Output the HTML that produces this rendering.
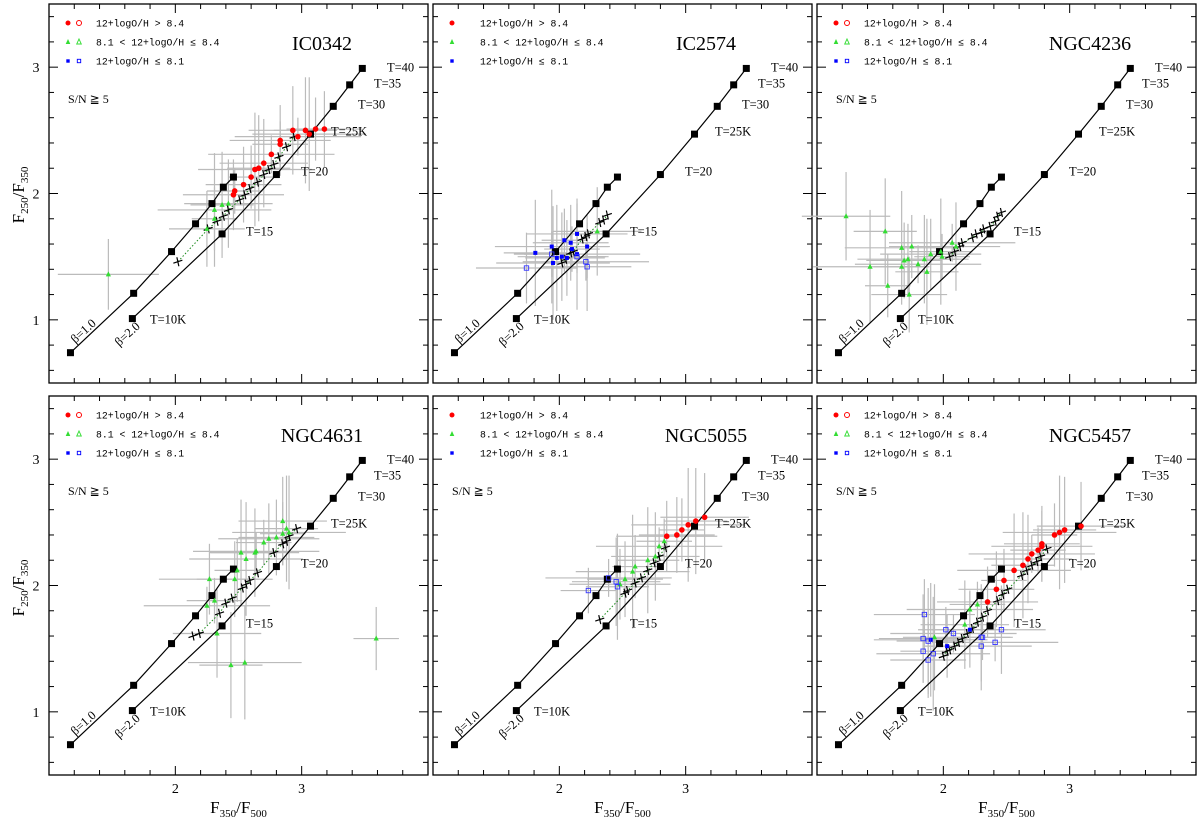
<!DOCTYPE html>
<html><head><meta charset="utf-8">
<style>
html,body{margin:0;padding:0;background:#fff;}
svg{display:block;}
text{font-family:"Liberation Serif",serif;fill:#000;}
.leg{font-family:"Liberation Mono",monospace;font-size:9.8px;}
</style></head>
<body>
<svg id="fig" width="1200" height="824" viewBox="0 0 1200 824" xmlns="http://www.w3.org/2000/svg"></svg>
<script>
// ---- data ----
const galaxyNames = ["IC0342","IC2574","NGC4236","NGC4631","NGC5055","NGC5457"];
const modelTemps = [10,15,20,25,30,35,40];
const beta1X = [1.17,1.67,1.97,2.16,2.29,2.38,2.46];
const beta1Y = [0.74,1.21,1.54,1.76,1.92,2.05,2.13];
const beta2X = [1.66,2.37,2.80,3.07,3.25,3.38,3.48];
const beta2Y = [1.01,1.68,2.15,2.47,2.69,2.86,2.99];
const xTickLabels = ["2","3"];
const yTickLabels = ["1","2","3"];
const redPts = [
 [[2.93,2.50],[3.03,2.50],[3.06,2.47],[3.11,2.51],[3.18,2.51],[2.83,2.42],[2.83,2.39],[2.76,2.31],[2.70,2.24],[2.66,2.20],[2.63,2.19],[2.60,2.13],[2.54,2.07],[2.46,1.99],[2.47,2.02],[2.97,2.45]],
 [],[],[],
 [[3.15,2.54],[3.08,2.51],[3.02,2.48],[2.97,2.44],[2.93,2.40],[2.85,2.39]],
 [[3.09,2.47],[2.96,2.44],[2.92,2.42],[2.88,2.40],[2.78,2.33],[2.78,2.31],[2.75,2.28],[2.70,2.25],[2.67,2.21],[2.63,2.16],[2.56,2.12],[2.48,2.04],[2.42,1.97],[2.35,1.87]]
];
const greenPts = [
 [[2.42,1.92],[2.37,1.91],[2.31,1.87],[2.31,1.80],[2.25,1.72],[1.47,1.36]],
 [[2.30,1.70]],
 [[1.23,1.82],[1.54,1.70],[1.67,1.57],[1.75,1.58],[1.69,1.47],[1.72,1.48],[1.67,1.42],[1.80,1.44],[1.85,1.48],[1.87,1.38],[1.42,1.42],[1.56,1.27],[1.73,1.20],[1.90,1.52],[1.99,1.50],[2.07,1.61],[2.10,1.58],[1.98,1.54]],
 [[2.85,2.51],[2.88,2.45],[2.90,2.42],[2.85,2.41],[2.80,2.38],[2.74,2.37],[2.70,2.34],[2.64,2.27],[2.63,2.26],[2.52,2.26],[2.56,2.21],[2.49,2.12],[2.47,2.05],[2.27,2.05],[2.31,1.88],[2.25,1.84],[2.33,1.62],[2.44,1.37],[2.55,1.39],[3.59,1.58]],
 [[2.83,2.35],[2.79,2.31],[2.76,2.23],[2.70,2.20],[2.58,2.11],[2.60,2.15],[2.52,2.05],[2.48,2.01]],
 [[2.27,1.85],[2.21,1.81],[2.17,1.69],[1.93,1.59]]
];
const blueFilledPts = [
 [],
 [[1.81,1.53],[1.94,1.58],[2.04,1.63],[2.09,1.61],[2.14,1.68],[2.10,1.56],[2.14,1.52],[2.02,1.50],[1.98,1.49],[1.95,1.45],[2.22,1.58],[2.06,1.49]],
 [],[],[],
 [[1.90,1.57],[2.03,1.52],[2.21,1.65]]
];
const blueOpenPts = [
 [],
 [[1.74,1.41],[1.94,1.52],[2.21,1.46],[2.22,1.42],[2.14,1.50]],
 [],[],
 [[2.23,1.96],[2.39,2.06],[2.45,2.03],[2.46,1.99]],
 [[1.85,1.77],[2.02,1.65],[2.08,1.62],[1.84,1.58],[1.88,1.56],[1.92,1.46],[1.84,1.48],[1.88,1.41],[2.30,1.52],[2.31,1.59],[2.41,1.55],[2.46,1.65],[2.30,1.59]]
];
const fitPts = [
 [[2.02,1.46],[2.26,1.72],[2.33,1.78],[2.38,1.82],[2.42,1.87],[2.51,1.95],[2.55,1.99],[2.59,2.04],[2.65,2.09],[2.70,2.15],[2.74,2.19],[2.78,2.23],[2.82,2.29],[2.88,2.37],[2.94,2.45]],
 [[2.02,1.45],[2.05,1.48],[2.09,1.53],[2.11,1.54],[2.18,1.64],[2.21,1.66],[2.23,1.68],[2.32,1.77],[2.35,1.79],[2.38,1.83]],
 [[2.05,1.50],[2.09,1.54],[2.13,1.58],[2.15,1.61],[2.23,1.65],[2.26,1.68],[2.30,1.69],[2.32,1.72],[2.37,1.74],[2.41,1.78],[2.43,1.82],[2.46,1.85]],
 [[2.14,1.60],[2.19,1.62],[2.35,1.78],[2.40,1.86],[2.45,1.90],[2.53,1.98],[2.56,2.01],[2.59,2.04],[2.65,2.10],[2.78,2.26],[2.85,2.33],[2.88,2.35],[2.90,2.39],[2.96,2.45]],
 [[2.32,1.73],[2.52,1.94],[2.54,1.96],[2.60,2.02],[2.65,2.06],[2.70,2.12],[2.75,2.18],[2.79,2.23],[2.84,2.30]],
 [[2.00,1.44],[2.03,1.48],[2.05,1.49],[2.09,1.52],[2.12,1.55],[2.15,1.58],[2.19,1.62],[2.23,1.66],[2.27,1.71],[2.31,1.75],[2.35,1.80],[2.43,1.88],[2.47,1.93],[2.51,1.97],[2.62,2.08],[2.66,2.12],[2.70,2.16],[2.74,2.19],[2.77,2.23],[2.82,2.29]]
];
const errX = [0.35,0.25,0.45,0.18,0.30,0.40,0.22,0.50];
const errY = [0.35,0.25,0.18,0.42,0.30,0.15,0.45,0.28];
const legendOpen = [true,false,true,true,false,true];
const showSNR = [true,false,true,true,true,true];

// ---- drawing ----
const NS="http://www.w3.org/2000/svg";
const svg=document.getElementById('fig');
const L=[49,433,817], TOP=[4,396], W=379, H=379;
function el(tag,attrs,parent){const e=document.createElementNS(NS,tag);for(const k in attrs)e.setAttribute(k,attrs[k]);(parent||svg).appendChild(e);return e;}
function xs(p,v){return L[p%3]+(v-1)*W/3;}
function ys(p,v){return TOP[Math.floor(p/3)]+(3.5-v)*H/3;}

for(let p=0;p<6;p++){
  const g=el('g',{});
  
  
  const x0=L[p%3], y0=TOP[Math.floor(p/3)];
  const fr=el('rect',{x:x0,y:y0,width:W,height:H,fill:'none',stroke:'#000','stroke-width':1.3},g);
  
  
  for(let i=6;i<=19;i++){const v=i/5; if(v<=1||v>=4)continue; const px=xs(p,v); const maj=Math.abs(v-Math.round(v))<1e-6; const len=maj?9:5;
    el('line',{x1:px,y1:y0+H,x2:px,y2:y0+H-len,stroke:'#000','stroke-width':1},g);
    el('line',{x1:px,y1:y0,x2:px,y2:y0+len,stroke:'#000','stroke-width':1},g);}
  for(let i=3;i<=17;i++){const v=i/5; if(v<=0.5||v>=3.5)continue; const py=ys(p,v); const maj=Math.abs(v-Math.round(v))<1e-6; const len=maj?9:5;
    el('line',{x1:x0,y1:py,x2:x0+len,y2:py,stroke:'#000','stroke-width':1},g);
    el('line',{x1:x0+W,y1:py,x2:x0+W-len,y2:py,stroke:'#000','stroke-width':1},g);}
  if(p>=3){xTickLabels.forEach(t=>{const tl=el('text',{x:xs(p,+t),y:793,'font-size':14,'text-anchor':'middle'},g);tl.textContent=t;
    
    });}
  if(p%3===0){yTickLabels.forEach(t=>{const tl=el('text',{x:36,y:ys(p,+t)+5,'font-size':14,'text-anchor':'middle'},g);tl.textContent=t;
    
    });}
  const allPts=[].concat(redPts[p],greenPts[p],blueFilledPts[p],blueOpenPts[p]);
  allPts.forEach((pt,i)=>{const ex=errX[i%errX.length], ey=errY[(i*3)%errY.length];
    el('line',{x1:xs(p,pt[0]-ex),y1:ys(p,pt[1]),x2:xs(p,pt[0]+ex),y2:ys(p,pt[1]),stroke:'#bbb','stroke-width':1.2},g);
    el('line',{x1:xs(p,pt[0]),y1:ys(p,pt[1]-ey),x2:xs(p,pt[0]),y2:ys(p,pt[1]+ey),stroke:'#bbb','stroke-width':1.2},g);});
  [[beta1X,beta1Y,'beta-1-curve'],[beta2X,beta2Y,'beta-2-curve']].forEach(([X,Y,nm])=>{
    const d=X.map((v,i)=>(i?'L':'M')+xs(p,v).toFixed(1)+','+ys(p,Y[i]).toFixed(1)).join(' ');
    const c=el('path',{d:d,fill:'none',stroke:'#000','stroke-width':1.2},g);
    
    
    X.forEach((v,i)=>{const s=el('rect',{x:xs(p,v)-3.5,y:ys(p,Y[i])-3.5,width:7,height:7,fill:'#000'},g);
      
      });
  });
  const fd=fitPts[p].map((pt,i)=>(i?'L':'M')+xs(p,pt[0]).toFixed(1)+','+ys(p,pt[1]).toFixed(1)).join(' ');
  el('path',{d:fd,fill:'none',stroke:'#1a8a1a','stroke-width':1,'stroke-dasharray':'1.5,2'},g);
  fitPts[p].forEach(pt=>{const cx=xs(p,pt[0]),cy=ys(p,pt[1]);
    const c=el('path',{d:`M${cx-4.5},${cy+1.5}L${cx+4.5},${cy-1.5}M${cx-1},${cy-4.5}L${cx+1},${cy+4.5}`,stroke:'#000','stroke-width':1.2},g);
    
    });
  redPts[p].forEach(pt=>{const m=el('circle',{cx:xs(p,pt[0]),cy:ys(p,pt[1]),r:2.8,fill:'#f00'},g);
    
    });
  greenPts[p].forEach(pt=>{const cx=xs(p,pt[0]),cy=ys(p,pt[1]);const m=el('polygon',{points:`${cx},${cy-3} ${cx-2.6},${cy+2} ${cx+2.6},${cy+2}`,fill:'#3d3'},g);
    
    });
  blueFilledPts[p].forEach(pt=>{const m=el('rect',{x:xs(p,pt[0])-2,y:ys(p,pt[1])-2,width:4,height:4,fill:'#00f'},g);
    
    });
  blueOpenPts[p].forEach(pt=>{const m=el('rect',{x:xs(p,pt[0])-2.2,y:ys(p,pt[1])-2.2,width:4.4,height:4.4,fill:'none',stroke:'#33f','stroke-width':0.9},g);
    
    });
  const lg=el('g',{},g);
  
  
  const lx=x0+19;
  el('circle',{cx:lx,cy:y0+19,r:2.5,fill:'#f00'},lg);
  el('polygon',{points:`${lx},${y0+35} ${lx-2.3},${y0+40} ${lx+2.3},${y0+40}`,fill:'#3d3'},lg);
  el('rect',{x:lx-1.7,y:y0+55.3,width:3.4,height:3.4,fill:'#00f'},lg);
  if(legendOpen[p]){
    el('circle',{cx:lx+11,cy:y0+19,r:2.5,fill:'none',stroke:'#f00','stroke-width':1},lg);
    el('polygon',{points:`${lx+11},${y0+35} ${lx+8.7},${y0+40} ${lx+13.3},${y0+40}`,fill:'none',stroke:'#3d3','stroke-width':0.9},lg);
    el('rect',{x:lx+9.3,y:y0+55.3,width:3.4,height:3.4,fill:'none',stroke:'#00f','stroke-width':0.9},lg);
  }
  [['12+logO/H > 8.4',19],['8.1 < 12+logO/H \u2264 8.4',38],['12+logO/H \u2264 8.1',57]].forEach(([t,dy])=>{
    const tx=el('text',{x:x0+47,y:y0+dy+3.5,class:'leg'},lg);tx.textContent=t;
    
    });
  const tt=el('text',{x:x0+273,y:y0+46,'font-size':20,'text-anchor':'middle'},g);tt.textContent=galaxyNames[p];
  
  
  if(showSNR[p]){const sn=el('text',{x:x0+19,y:y0+99,'font-size':12},g);sn.textContent='S/N \u2267 5';
    
    }
  const tl=[['T=40',338,63],['T=35',325,79],['T=30',309,100],['T=25K',282,127],['T=20',252,167],['T=15',197,227],['T=10K',101,315]];
  tl.forEach(([t,dx,dy])=>{const e=el('text',{x:x0+dx,y:y0+dy+4.5,'font-size':12.5},g);e.textContent=t;
    
    });
  const b1=el('text',{x:0,y:0,'font-size':12.5,'text-anchor':'middle',transform:`translate(${x0+37},${y0+330}) rotate(-42)`},g);b1.textContent='\u03b2=1.0';
  
  
  const b2=el('text',{x:0,y:0,'font-size':12.5,'text-anchor':'middle',transform:`translate(${x0+81},${y0+333}) rotate(-42)`},g);b2.textContent='\u03b2=2.0';
  
  
}
[195,588].forEach(cy=>{const t=el('text',{x:0,y:0,'font-size':17,'text-anchor':'middle',transform:`translate(24,${cy}) rotate(-90)`});
  t.innerHTML='F<tspan font-size="11" dy="4">250</tspan><tspan dy="-4">/F</tspan><tspan font-size="11" dy="4">350</tspan>';
  
  });
[0,1,2].forEach(c=>{const t=el('text',{x:L[c]+W/2,y:813,'font-size':17,'text-anchor':'middle'});
  t.innerHTML='F<tspan font-size="11" dy="4">350</tspan><tspan dy="-4">/F</tspan><tspan font-size="11" dy="4">500</tspan>';
  
  });
</script>
</body></html>
